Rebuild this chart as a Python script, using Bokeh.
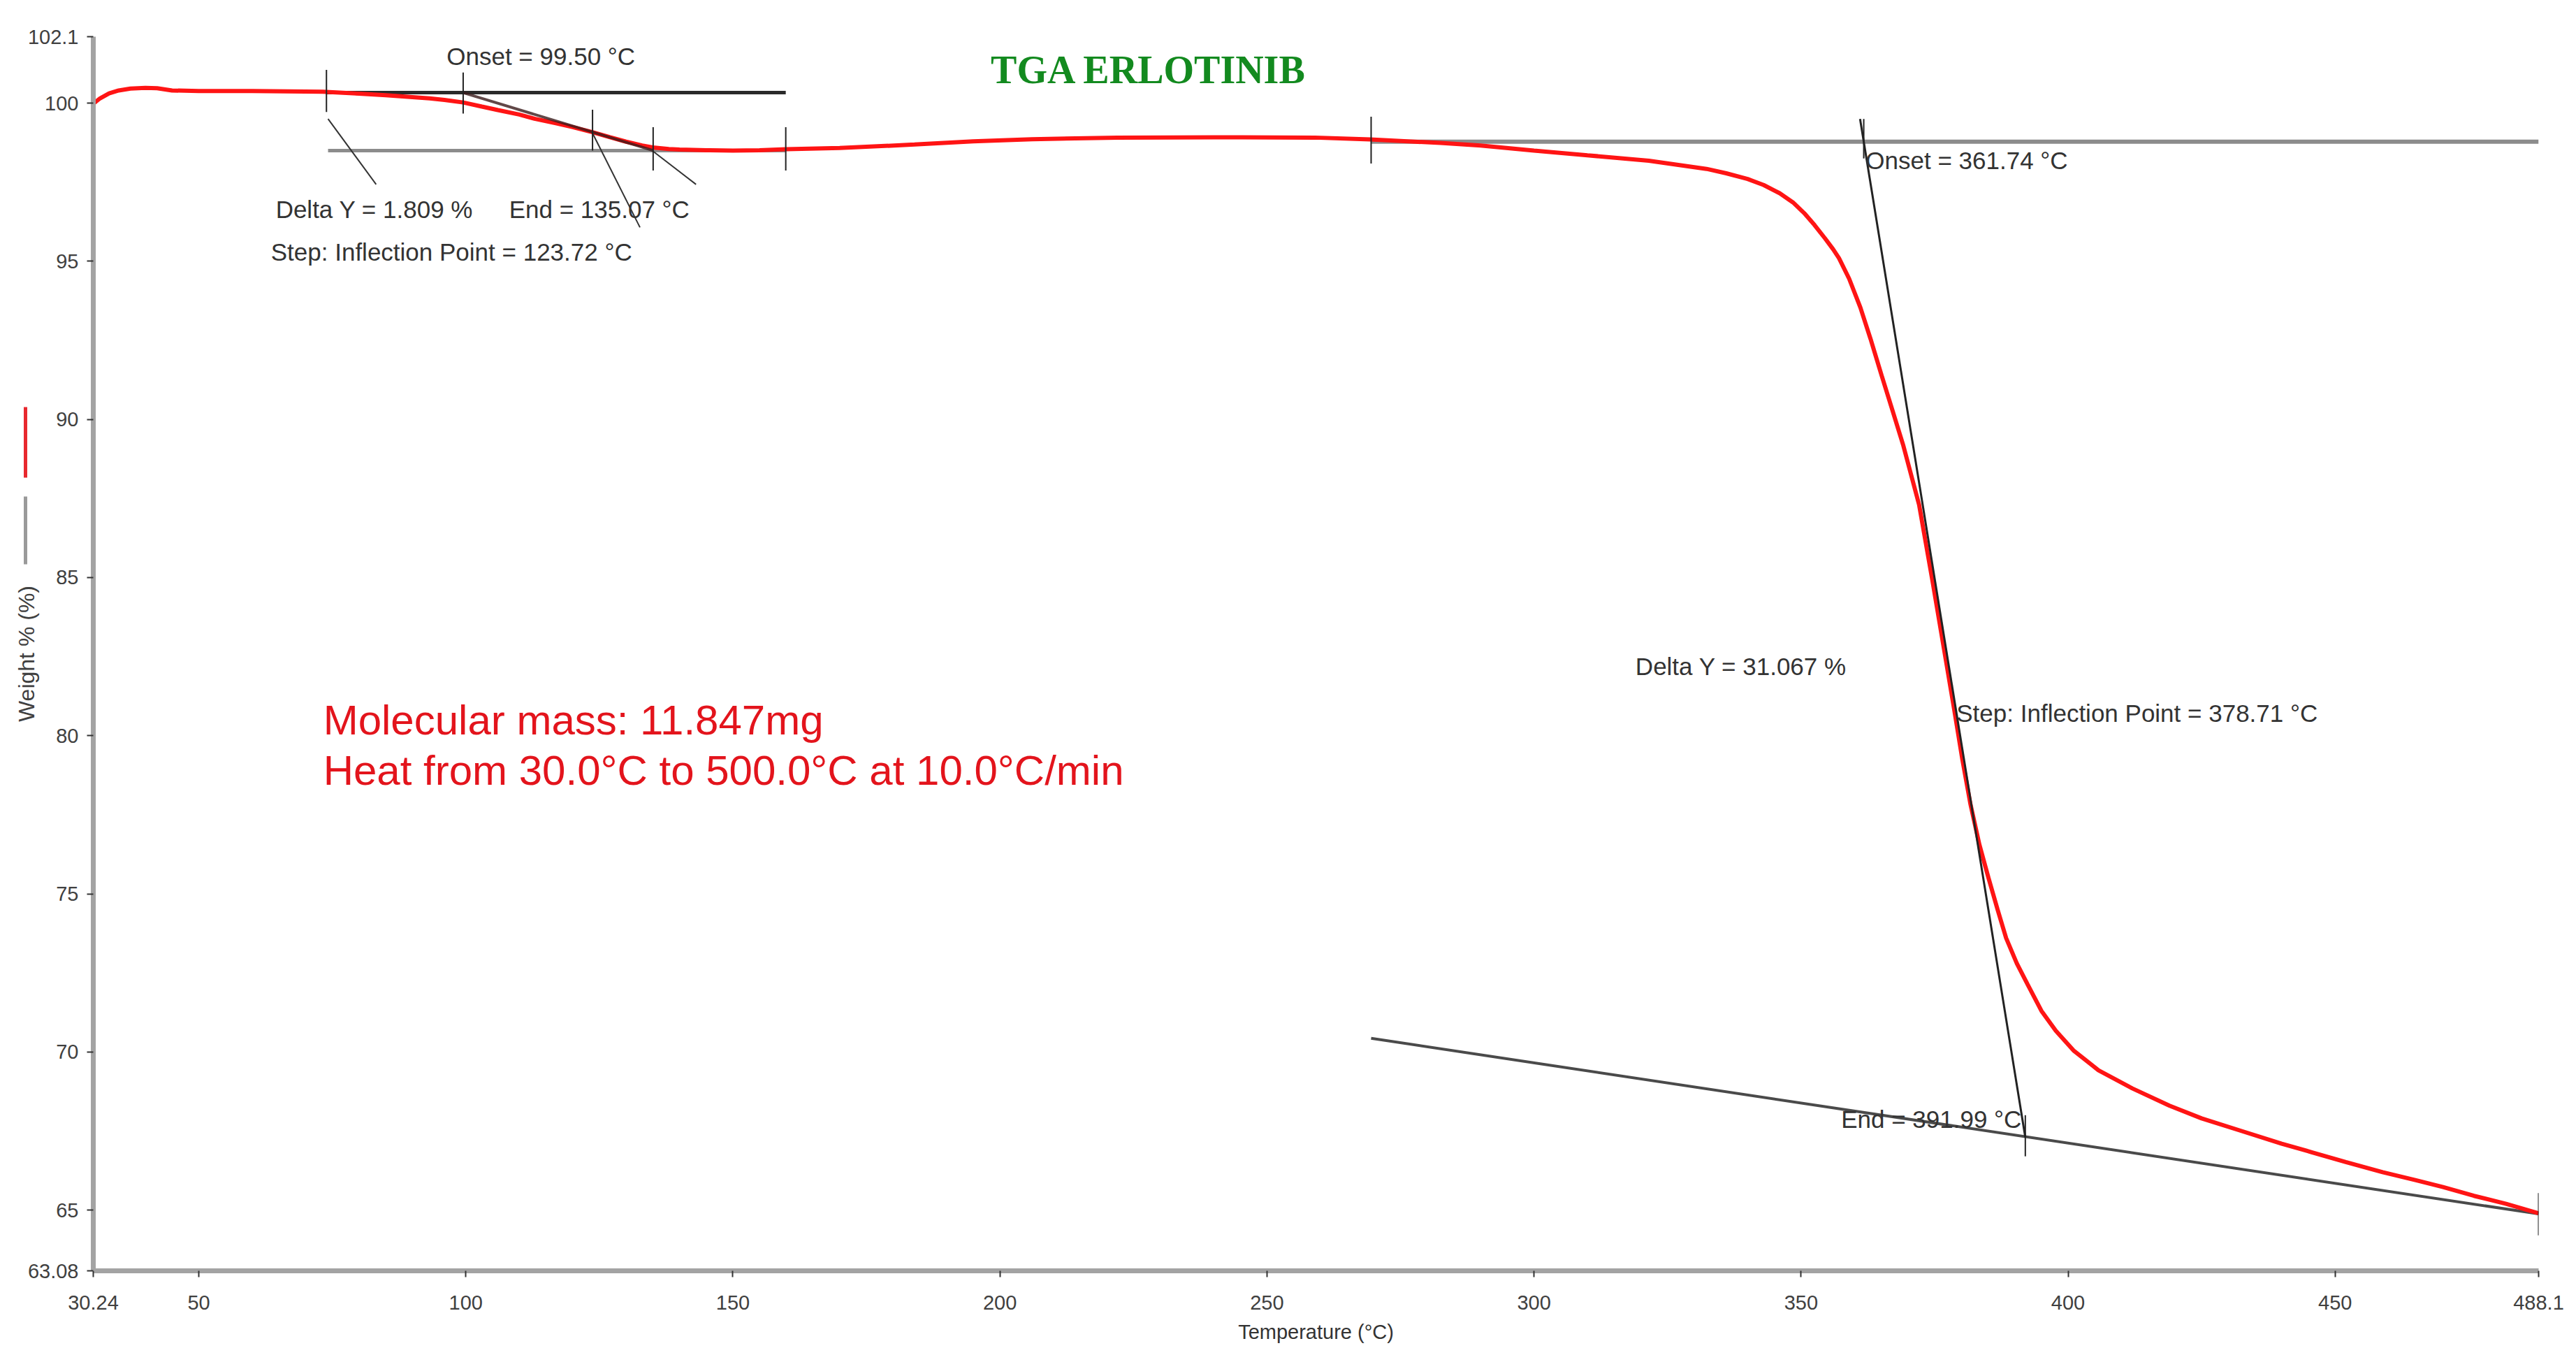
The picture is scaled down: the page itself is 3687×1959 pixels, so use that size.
import math
from bokeh.plotting import figure
from bokeh.models import Range1d, FixedTicker, LinearAxis
from bokeh.core.properties import value
from bokeh.embed import file_html
from bokeh.resources import INLINE

# ---------------- data ----------------
temperature = [30.24, 31.5, 33.2, 35, 37.2, 40, 42.2, 45, 50, 60, 73.2, 80, 85, 90, 93.2, 96,
               99.5, 103, 106, 110, 113, 117, 120, 123.7, 127, 130, 133, 135, 138, 140, 145,
               150, 155, 160, 170, 184, 195, 206, 222, 240, 259, 269.3, 282.5, 290, 300, 310,
               321.5, 332.3, 336, 340, 343, 346, 348.5, 350.6, 352.5, 354.5, 356, 357.1, 359,
               361.1, 363, 365.1, 367, 369.1, 372.1, 374.6, 377.1, 378.7, 380.2, 381.7, 383.4,
               385.1, 386.8, 388.4, 390.4, 392.4, 395, 397.7, 401, 405.7, 412, 419, 425, 432.3,
               440, 445.6, 452, 458.9, 465, 470.2, 476, 482, 488.1]
weight = [99.98, 100.15, 100.31, 100.40, 100.46, 100.48, 100.47, 100.40, 100.38, 100.38, 100.36,
          100.30, 100.25, 100.19, 100.15, 100.10, 100.02, 99.89, 99.78, 99.64, 99.50, 99.36,
          99.24, 99.08, 98.92, 98.78, 98.66, 98.60, 98.55, 98.53, 98.51, 98.50, 98.51, 98.54,
          98.58, 98.69, 98.79, 98.86, 98.91, 98.92, 98.91, 98.85, 98.74, 98.66, 98.50, 98.35,
          98.18, 97.92, 97.78, 97.60, 97.41, 97.15, 96.86, 96.52, 96.15, 95.72, 95.38, 95.10,
          94.45, 93.54, 92.55, 91.38, 90.35, 89.20, 87.30, 84.90, 82.40, 80.80, 79.25, 77.85,
          76.55, 75.50, 74.50, 73.60, 72.80, 72.14, 71.30, 70.67, 70.05, 69.42, 68.85, 68.30,
          67.90, 67.51, 67.10, 66.83, 66.52, 66.20, 65.95, 65.73, 65.45, 65.20, 64.90]

x_ticks = [30.24, 50, 100, 150, 200, 250, 300, 350, 400, 450, 488.1]
x_tick_labels = ["30.24", "50", "100", "150", "200", "250", "300", "350", "400", "450", "488.1"]
y_ticks = [63.08, 65, 70, 75, 80, 85, 90, 95, 100, 102.1]
y_tick_labels = ["63.08", "65", "70", "75", "80", "85", "90", "95", "100", "102.1"]

# y-axis line keys (weight % ranges covered by the red and gray key marks)
red_key_range = (88.16, 90.38)
gray_key_range = (85.41, 87.56)

# step 1 analysis
step1_upper_T = [73.9, 159.9]
step1_upper_W = [100.33, 100.33]
step1_lower_T = [74.2, 159.9]
step1_lower_W = [98.50, 98.50]
step1_tangent_T = [99.50, 135.07]
step1_tangent_W = [100.33, 98.50]
leader_T0 = [74.2, 123.6, 135.1]
leader_W0 = [99.50, 99.09, 98.47]
leader_T1 = [83.2, 132.6, 143.1]
leader_W1 = [97.43, 96.07, 97.43]

# step 2 analysis
step2_upper_T = [269.5, 488.1]
step2_upper_W = [98.78, 98.78]
step2_lower_T = [269.5, 488.1]
step2_lower_W = [70.43, 64.88]
step2_tangent_T = [361.05, 391.99]
step2_tangent_W = [99.50, 67.30]

# short vertical markers
marker_T = [73.9, 99.50, 123.72, 135.07, 159.9, 269.5, 361.74, 391.99, 488.1]
marker_top = [101.05, 100.97, 99.79, 99.24, 99.24, 99.57, 99.50, 68.00, 65.54]
marker_bottom = [99.72, 99.67, 98.50, 97.87, 97.87, 98.09, 98.25, 66.70, 64.20]

annot_text = ["Onset = 99.50 \u00b0C", "Delta Y = 1.809 %", "End = 135.07 \u00b0C",
              "Step: Inflection Point = 123.72 \u00b0C", "Onset = 361.74 \u00b0C",
              "Delta Y = 31.067 %", "Step: Inflection Point = 378.71 \u00b0C",
              "End = 391.99 \u00b0C"]
annot_T = [96.4, 64.4, 108.1, 63.5, 362.1, 319.0, 379.1, 357.5]
annot_W = [101.48, 96.65, 96.65, 95.30, 98.20, 82.20, 80.71, 67.88]

info_text = ["Molecular mass: 11.847mg", "Heat from 30.0\u00b0C to 500.0\u00b0C at 10.0\u00b0C/min"]
info_T = [73.3, 73.3]
info_W = [80.50, 78.90]

title_text = ["TGA ERLOTINIB"]
title_T = [227.9]
title_W = [101.06]

# ---------------- figure ----------------
p = figure(width=3676, height=1948, output_backend="svg", toolbar_location=None,
           x_range=Range1d(30.24, 488.1), y_range=Range1d(63.08, 102.1),
           min_border_left=133, min_border_right=43, min_border_top=52, min_border_bottom=130)
p.outline_line_color = None
p.xgrid.visible = False
p.ygrid.visible = False
p.background_fill_color = "white"
p.border_fill_color = "white"

for ax in (p.xaxis[0], p.yaxis[0]):
    ax.axis_line_color = "#a3a3a3"
    ax.axis_line_width = 7
    ax.major_tick_line_color = "#333333"
    ax.major_tick_line_width = 2
    ax.major_tick_out = 9
    ax.major_tick_in = 0
    ax.minor_tick_line_color = None
    ax.major_label_text_font = "Liberation Sans"
    ax.major_label_text_font_size = "29px"
    ax.major_label_text_color = "#404040"

p.xaxis.ticker = FixedTicker(ticks=x_ticks)
p.xaxis.major_label_overrides = {t: l for t, l in zip(x_ticks, x_tick_labels)}
p.yaxis.ticker = FixedTicker(ticks=y_ticks)
p.yaxis.major_label_overrides = {t: l for t, l in zip(y_ticks, y_tick_labels)}
p.xaxis.major_label_standoff = 26
p.yaxis.major_label_standoff = 12
p.xaxis.axis_label = "Temperature (\u00b0C)"
p.xaxis.axis_label_text_font = "Liberation Sans"
p.xaxis.axis_label_text_font_size = "29px"
p.xaxis.axis_label_text_font_style = "normal"
p.xaxis.axis_label_text_color = "#333333"
p.xaxis.axis_label_standoff = 13


def key_axis(bounds, color, label=None):
    ax = LinearAxis(bounds=bounds, ticker=FixedTicker(ticks=[]))
    ax.axis_line_color = color
    ax.axis_line_width = 5
    ax.major_tick_out = 0
    ax.major_tick_in = 0
    ax.minor_tick_out = 0
    ax.minor_tick_in = 0
    ax.major_label_standoff = 0
    ax.major_label_text_font_size = "1px"
    if label:
        ax.axis_label = label
        ax.axis_label_text_font = "Liberation Sans"
        ax.axis_label_text_font_size = "32px"
        ax.axis_label_text_font_style = "normal"
        ax.axis_label_text_color = "#404040"
        ax.axis_label_standoff = -19
    return ax


p.add_layout(key_axis(gray_key_range, "#9a9a9a"), "left")
p.add_layout(key_axis(red_key_range, "#e8282e", "Weight % (%)"), "left")

# baselines (under the curve)
p.line(step1_upper_T, step1_upper_W, line_color="#2a2a2a", line_width=5)
p.line(step1_lower_T, step1_lower_W, line_color="#8c8c8c", line_width=5)
p.line(step2_upper_T, step2_upper_W, line_color="#8c8c8c", line_width=6)
p.line(step2_lower_T, step2_lower_W, line_color="#4a4a4a", line_width=4)

# curve
p.line(temperature, weight, line_color="#ff1414", line_width=6)

# tangents, leaders and markers (over the curve)
p.line(step1_tangent_T, step1_tangent_W, line_color="#3a1a1a", line_width=4, line_alpha=0.8)
p.line(step2_tangent_T, step2_tangent_W, line_color="#222222", line_width=3)
p.segment(x0=leader_T0, y0=leader_W0, x1=leader_T1, y1=leader_W1, line_color="#333333", line_width=2)
p.segment(x0=marker_T, y0=marker_top, x1=marker_T, y1=marker_bottom, line_color="#222222", line_width=2)

# texts
p.text(x=annot_T, y=annot_W, text=annot_text, text_font=value("Liberation Sans"),
       text_font_size=value("35px"), text_color="#333333", text_align="left", text_baseline="middle")
p.text(x=info_T, y=info_W, text=info_text, text_font=value("Liberation Sans"),
       text_font_size=value("60px"), text_color="#e3141c", text_align="left", text_baseline="middle")
p.text(x=title_T, y=title_W, text=title_text, text_font=value("Liberation Serif"),
       text_font_size=value("56px"), text_font_style="bold", text_color="#138a1f",
       text_align="center", text_baseline="middle")

open("out.html", "w").write(file_html(p, INLINE))
